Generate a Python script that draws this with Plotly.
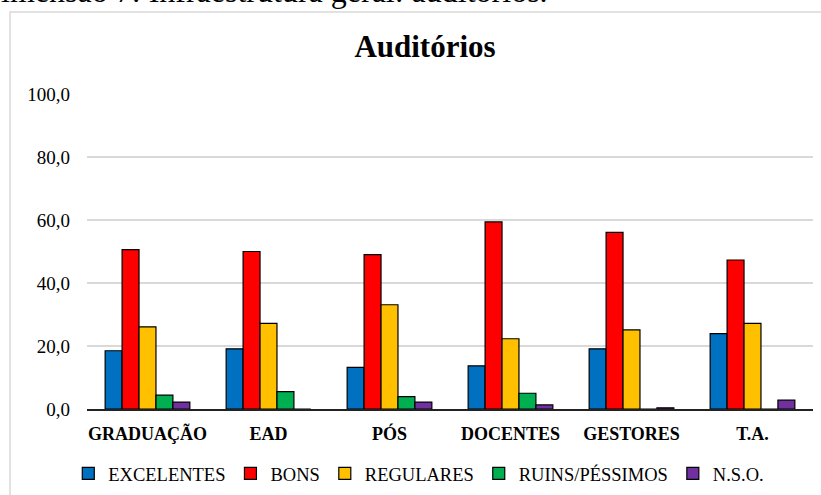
import plotly.graph_objects as go

categories = ["GRADUAÇÃO", "EAD", "PÓS", "DOCENTES", "GESTORES", "T.A."]
excelentes = [18.5, 19.1, 13.2, 13.7, 19.1, 23.9]
bons = [50.6, 50.0, 49.0, 59.4, 56.1, 47.3]
regulares = [26.1, 27.2, 33.1, 22.3, 25.1, 27.2]
ruins_pessimos = [4.4, 5.5, 3.9, 5.0, 0.0, 0.0]
nso = [2.2, 0.0, 2.2, 1.3, 0.4, 2.8]

series = [
    ("EXCELENTES", excelentes, "#0070C0"),
    ("BONS", bons, "#FF0000"),
    ("REGULARES", regulares, "#FFC000"),
    ("RUINS/PÉSSIMOS", ruins_pessimos, "#00B050"),
    ("N.S.O.", nso, "#7030A0"),
]
y_ticks = [0, 20, 40, 60, 80, 100]
y_tick_labels = ["0,0", "20,0", "40,0", "60,0", "80,0", "100,0"]

FONT = "'Liberation Serif', 'Times New Roman', Times, serif"

fig = go.Figure()
for name, vals, color in series:
    fig.add_trace(go.Bar(
        x=categories, y=vals, name=name,
        marker=dict(color=color, line=dict(color="#000000", width=1.2)),
    ))

fig.update_layout(
    width=821, height=495,
    margin=dict(l=87, r=8, t=94, b=86, autoexpand=False),
    paper_bgcolor="white", plot_bgcolor="white",
    barmode="group", bargap=0.3, bargroupgap=0,
    font=dict(family=FONT, color="#000000", size=18),
    title=dict(text="<b>Auditórios</b>", x=425/821, xanchor="center",
               y=1 - 46/495, yanchor="middle",
               font=dict(family=FONT, size=31, color="#000000")),
    showlegend=True,
    legend=dict(orientation="h", x=0.457, xanchor="center", y=-0.206, yanchor="middle",
                font=dict(family=FONT, size=18.5, color="#000000"),
                itemclick=False, traceorder="normal"),
    xaxis=dict(showline=True, linecolor="#222222", linewidth=2, automargin=False,
               ticks="", ticklabelstandoff=7,
               tickfont=dict(family=FONT, size=18, color="#000000"),
               tickprefix="<b>", ticksuffix="</b>"),
    yaxis=dict(range=[0, 100], tickvals=y_ticks, ticktext=y_tick_labels,
               showgrid=True, gridcolor="#D9D9D9", gridwidth=1.5, automargin=False,
               zeroline=False, showline=False, ticks="",
               ticklabelstandoff=16,
               tickfont=dict(family=FONT, size=19, color="#000000")),
    shapes=[dict(type="rect", xref="paper", yref="paper",
                 x0=-77/726, x1=1.2, y0=-0.6, y1=1 + 82/315,
                 line=dict(color="#D9D9D9", width=1.5), fillcolor="rgba(0,0,0,0)",
                 layer="below")],
    annotations=[dict(text="Dimensão 7: Infraestrutura geral: auditórios.",
                      xref="paper", yref="paper", x=(-24 - 87)/726, xanchor="left",
                      y=1 + (94 - 11)/315, yanchor="bottom", showarrow=False,
                      font=dict(family=FONT, size=32, color="#000000"))],
)

fig.write_html("out.html",
               config={"displayModeBar": False},
               post_script="document.body.style.margin='0';document.body.style.overflow='hidden';")
